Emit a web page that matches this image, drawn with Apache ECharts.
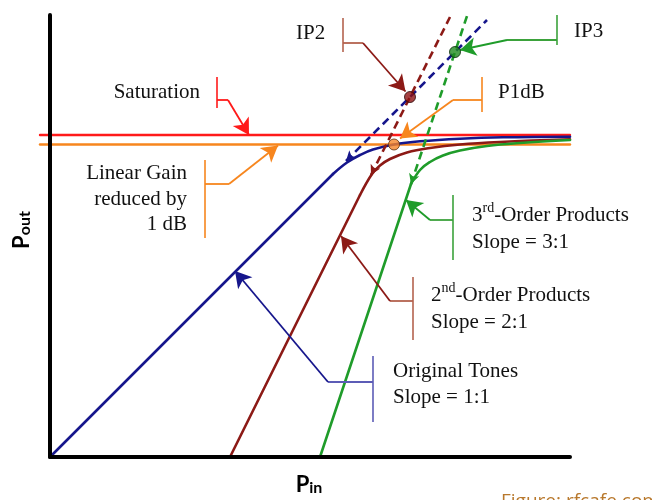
<!DOCTYPE html>
<html><head><meta charset="utf-8">
<script src="https://cdn.jsdelivr.net/npm/echarts@6/dist/echarts.min.js"></script>
<style>html,body{margin:0;padding:0;background:#fff}#c{width:652px;height:500px}</style>
</head><body><div id="c"></div>
<script>
// ---- data (arbitrary dB-like units) ----
const pinAxis = [[0, 0], [52, 0]];
const poutAxis = [[0, 0], [0, 44.2]];
const saturation = [[-1, 32.2], [52, 32.2]];
const linearGainMinus1 = [[-1, 31.25], [52, 31.25]];
const originalLinear = [[0, 0], [28.3, 28.3]];
const originalKnee = [[28.3, 28.3], [29.7, 29.45], [31, 30.2], [32.3, 30.75], [34.4, 31.25], [37, 31.57], [41, 31.83], [45.3, 31.97], [52, 32.03]];
const secondLinear = [[18, 0], [31.0, 26.2]];
const secondKnee = [[31.0, 26.2], [32.2, 28.3], [33, 29.15], [34, 29.8], [35.7, 30.45], [38, 30.9], [41, 31.25], [45, 31.5], [52, 31.77]];
const thirdLinear = [[27, 0], [36.1, 27.3]];
const thirdKnee = [[36.1, 27.3], [37, 28.7], [38, 29.5], [39.3, 30.15], [41, 30.65], [43.7, 31.1], [47, 31.4], [52, 31.7]];
const originalExt = [[29.6, 29.6], [43.7, 43.7]];
const secondExt = [[32.1, 28.2], [40, 44]];
const thirdExt = [[36.1, 27.3], [41.7, 44.1]];
const ip2 = [36, 36];
const ip3 = [40.5, 40.5];
const p1dB = [34.4, 31.25];
// callouts: bracketTop, bracketBottom, elbowStart, elbowEnd, arrowTip
const calloutSaturation = [[16.7, 38.0], [16.7, 34.9], [16.7, 35.7], [17.8, 35.7], [19.9, 32.2]];
const calloutLinearGain = [[15.5, 29.7], [15.5, 21.9], [15.5, 27.3], [17.9, 27.3], [22.8, 31.15]];
const calloutIP2 = [[29.3, 43.9], [29.3, 40.5], [29.3, 41.4], [31.3, 41.4], [35.55, 36.55]];
const calloutIP3 = [[50.7, 44.2], [50.7, 41.2], [50.7, 41.7], [45.7, 41.7], [41.0, 40.7]];
const calloutP1dB = [[43.2, 38.0], [43.2, 34.5], [43.2, 35.7], [40.3, 35.7], [35.0, 31.85]];
const calloutThird = [[40.3, 26.2], [40.3, 19.7], [40.3, 23.7], [38.0, 23.7], [35.6, 25.7]];
const calloutSecond = [[36.3, 18.0], [36.3, 11.7], [36.3, 15.6], [34.0, 15.6], [29.1, 22.1]];
const calloutOriginal = [[32.3, 10.1], [32.3, 3.5], [32.3, 7.5], [27.8, 7.5], [18.5, 18.6]];

const NAVY = '#16168c', MAROON = '#8c1a16', GREEN = '#1f9c2a', RED = '#ff1a1a', ORANGE = '#f7861e';

function calloutLines(c, bracketColor, arrowColor) {
  return [
    [{coord: c[0], symbol: 'none', lineStyle: {color: bracketColor, width: 1.6, type: 'solid'}}, {coord: c[1], symbol: 'none'}],
    [{coord: c[2], symbol: 'none', lineStyle: {color: bracketColor, width: 1.8, type: 'solid'}}, {coord: c[3], symbol: 'none'}],
    [{coord: c[3], symbol: 'none', lineStyle: {color: arrowColor, width: 1.8, type: 'solid'}}, {coord: c[4], symbol: 'arrow', symbolSize: [14, 16]}]
  ];
}
function extLine(ext, color) {
  return {
    silent: true, animation: false, symbol: ['arrow', 'none'], symbolSize: [8, 10],
    label: {show: false}, emphasis: {disabled: true},
    lineStyle: {color: color, width: 2.6, type: [8, 5]},
    data: [[{coord: ext[0]}, {coord: ext[1]}]]
  };
}
function lineSeries(name, data, color, width, smooth, z, markLine) {
  const s = {name, type: 'line', data, symbol: 'none', smooth: smooth,
    lineStyle: {color, width, cap: 'round', join: 'round'}, z: z, silent: true, animation: false};
  if (markLine) s.markLine = markLine;
  return s;
}

const calloutData = [].concat(
  calloutLines(calloutSaturation, RED, RED),
  calloutLines(calloutLinearGain, ORANGE, ORANGE),
  calloutLines(calloutIP2, '#b4634e', MAROON),
  calloutLines(calloutIP3, '#3ba23b', GREEN),
  calloutLines(calloutP1dB, ORANGE, ORANGE),
  calloutLines(calloutThird, '#3ba23b', GREEN),
  calloutLines(calloutSecond, '#b4634e', MAROON),
  calloutLines(calloutOriginal, '#5c5cb6', NAVY)
);

const serif = 'Liberation Serif, Times New Roman, serif';
const TXT = '#111';
function txt(x, y, text, align, lineHeight, rich) {
  const st = {text, fill: TXT, font: '21px ' + serif, align: align, verticalAlign: 'top', lineHeight: lineHeight};
  if (rich) st.rich = rich;
  return {type: 'text', x, y, silent: true, style: st, z: 20};
}
const supRich = {
  n: {font: '21px ' + serif, fill: TXT, lineHeight: 27, verticalAlign: 'middle'},
  s: {font: '14px ' + serif, fill: TXT, lineHeight: 16, verticalAlign: 'top'}
};
const subRich = {
  p: {font: 'bold 22px Lato, sans-serif', fill: '#000', lineHeight: 24, verticalAlign: 'bottom'},
  s: {font: 'bold 16px Lato, sans-serif', fill: '#000', lineHeight: 18, verticalAlign: 'bottom'}
};

const option = {
  animation: false,
  backgroundColor: '#fff',
  grid: {left: 40, right: 82, top: 15, bottom: 43},
  xAxis: {type: 'value', min: -1, max: 52, show: false},
  yAxis: {type: 'value', min: 0, max: 44.2, show: false},
  series: [
    lineSeries('sat', saturation, RED, 2.4, false, 2),
    lineSeries('lg', linearGainMinus1, ORANGE, 2.4, false, 2),
    lineSeries('origLin', originalLinear, NAVY, 2.6, false, 4, extLine(originalExt, NAVY)),
    lineSeries('origKnee', originalKnee, NAVY, 2.6, 0.4, 4),
    lineSeries('secondLin', secondLinear, MAROON, 2.6, false, 3, extLine(secondExt, MAROON)),
    lineSeries('secondKnee', secondKnee, MAROON, 2.6, 0.4, 3),
    lineSeries('thirdLin', thirdLinear, GREEN, 2.6, false, 3, extLine(thirdExt, GREEN)),
    lineSeries('thirdKnee', thirdKnee, GREEN, 2.6, 0.4, 3),
    lineSeries('pinAxis', pinAxis, '#000', 4, false, 6),
    lineSeries('poutAxis', poutAxis, '#000', 4, false, 6, {
      silent: true, animation: false, symbol: 'none', label: {show: false}, emphasis: {disabled: true},
      data: calloutData
    }),
    {type: 'scatter', data: [ip2], symbolSize: 11, z: 10, silent: true,
      itemStyle: {color: '#8e1212', borderColor: '#2a0a0a', borderWidth: 1}},
    {type: 'scatter', data: [ip3], symbolSize: 11, z: 10, silent: true,
      itemStyle: {color: '#1e8a1e', borderColor: '#0a2a0a', borderWidth: 1}},
    {type: 'scatter', data: [p1dB], symbolSize: 11, z: 10, silent: true,
      itemStyle: {color: '#f5862a', borderColor: '#5a3010', borderWidth: 1}}
  ],
  graphic: [
    txt(296, 20, 'IP2', 'left', 26),
    txt(574, 18, 'IP3', 'left', 26),
    txt(200, 79, 'Saturation', 'right', 26),
    txt(498, 79, 'P1dB', 'left', 26),
    txt(187, 161, 'Linear Gain\nreduced by\n1 dB', 'right', 25.5),
    txt(472, 201.5, '{n|3}{s|rd}{n|-Order Products}\n{n|Slope = 3:1}', 'left', 27, supRich),
    txt(431, 281.5, '{n|2}{s|nd}{n|-Order Products}\n{n|Slope = 2:1}', 'left', 27, supRich),
    txt(393, 358, 'Original Tones\nSlope = 1:1', 'left', 26),
    {type: 'text', x: 309, y: 484, silent: true, z: 20, style: {
      text: '{p|P}{s|in}', align: 'center', verticalAlign: 'middle', rich: subRich}},
    {type: 'text', x: 21, y: 230, rotation: Math.PI / 2, silent: true, z: 20, style: {
      text: '{p|P}{s|out}', align: 'center', verticalAlign: 'middle', rich: subRich}},
    {type: 'text', x: 501, y: 492, silent: true, z: 20, style: {
      text: 'Figure: rfcafe.com', font: '19px Open Sans, sans-serif', fill: '#b8782c', align: 'left', verticalAlign: 'top'}}
  ]
};
const chart = echarts.init(document.getElementById('c'));
chart.setOption(option);
</script>
</body></html>
